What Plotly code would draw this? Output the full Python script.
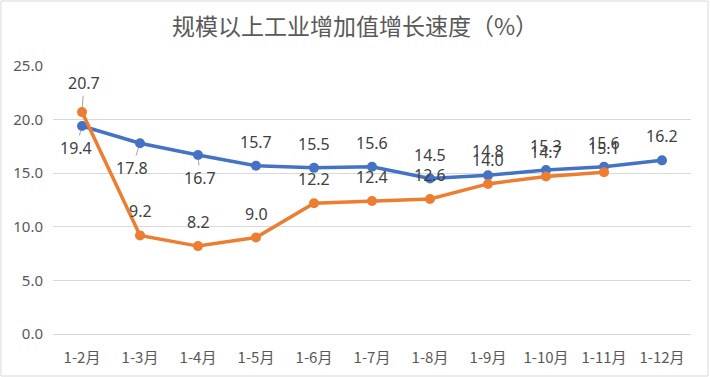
import plotly.graph_objects as go

categories = ["1-2月", "1-3月", "1-4月", "1-5月", "1-6月", "1-7月",
              "1-8月", "1-9月", "1-10月", "1-11月", "1-12月"]
series_a = [19.4, 17.8, 16.7, 15.7, 15.5, 15.6, 14.5, 14.8, 15.3, 15.6, 16.2]
series_b = [20.7, 9.2, 8.2, 9.0, 12.2, 12.4, 12.6, 14.0, 14.7, 15.1, None]
y_ticks = [0, 5, 10, 15, 20, 25]
y_tick_labels = ["0.0", "5.0", "10.0", "15.0", "20.0", "25.0"]

BLUE = "#4472C4"
ORANGE = "#ED7D31"
LABEL_FONT = dict(family="Noto Sans, DejaVu Sans", size=16, color="#404040")

# label offsets in pixels (dx, dy, leader)
offsets_a = [(-6, 22, True), (-8, 25, True), (2, 23, True)] + [(0, -24, False)] * 8
offsets_b = [(2, -29, True)] + [(0, -24, False)] * 10

fig = go.Figure()
fig.add_trace(go.Scatter(x=categories, y=series_a, mode="lines+markers", name="系列1",
                         line=dict(color=BLUE, width=3.5), marker=dict(size=10, color=BLUE)))
fig.add_trace(go.Scatter(x=categories, y=series_b, mode="lines+markers", name="系列2",
                         line=dict(color=ORANGE, width=3.5), marker=dict(size=10, color=ORANGE)))

annotations = []
for vals, offs in ((series_a, offsets_a), (series_b, offsets_b)):
    for c, v, (dx, dy, leader) in zip(categories, vals, offs):
        if v is None:
            continue
        if leader:
            annotations.append(dict(x=c, y=v, text=f"{v:.1f}", showarrow=True,
                                    ax=dx, ay=dy, arrowhead=0, arrowwidth=1,
                                    arrowcolor="#A6A6A6", standoff=5, font=LABEL_FONT))
        else:
            annotations.append(dict(x=c, y=v, text=f"{v:.1f}", showarrow=False,
                                    xshift=dx, yshift=-dy, font=LABEL_FONT))

fig.update_layout(
    width=710, height=377,
    margin=dict(l=53, r=19, t=66, b=43),
    paper_bgcolor="white", plot_bgcolor="white",
    showlegend=False,
    title=dict(text="规模以上工业增加值增长速度（%）", x=0.5, xanchor="center",
               y=1 - 27 / 377, yanchor="middle",
               font=dict(family="Noto Sans CJK SC", size=23, color="#595959")),
    annotations=annotations,
    xaxis=dict(type="category", range=[-0.5, 10.5], showgrid=False, automargin=False,
               showline=False, ticks="", ticklabelstandoff=13,
               tickfont=dict(family="Noto Sans CJK SC", size=15, color="#595959")),
    yaxis=dict(range=[0, 25], tickvals=y_ticks, ticktext=y_tick_labels, automargin=False,
               showgrid=True, gridcolor="#D9D9D9", gridwidth=1,
               zeroline=True, zerolinecolor="#D9D9D9", zerolinewidth=1,
               showline=False, ticks="", ticklabelstandoff=9,
               tickfont=dict(family="Noto Sans, DejaVu Sans", size=15, color="#595959")),
    shapes=[dict(type="rect", xref="paper", yref="paper",
                 x0=(1 - 53) / 638, x1=(708 - 53) / 638,
                 y0=(334 - 376) / 268, y1=(334 - 1) / 268,
                 line=dict(color="#D9D9D9", width=1), fillcolor="rgba(0,0,0,0)",
                 layer="below")],
)

fig.write_html("out.html", config={"displayModeBar": False},
               post_script="document.body.style.margin='0';")
